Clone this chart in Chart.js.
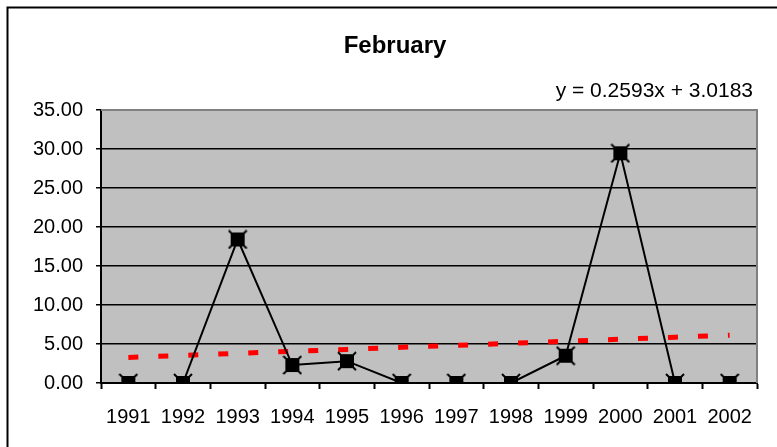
<!DOCTYPE html>
<html>
<head>
<meta charset="utf-8">
<script src="https://cdn.jsdelivr.net/npm/chart.js@4.4.0/dist/chart.umd.min.js"></script>
<style>
  body { margin: 0; background: #fff; }
  canvas { display: block; }
</style>
</head>
<body>
<canvas id="febChart" width="777" height="447"></canvas>
<script>
const years = ["1991", "1992", "1993", "1994", "1995", "1996", "1997", "1998", "1999", "2000", "2001", "2002"];
const rainfall = [0, 0, 18.4, 2.3, 2.8, 0, 0, 0, 3.5, 29.45, 0, 0];
// trendline values as shown: y = 0.2593x + 3.0183
const trend = [3.28, 3.54, 3.80, 4.06, 4.31, 4.57, 4.83, 5.09, 5.35, 5.61, 5.87, 6.13];
const yTicks = [0, 5, 10, 15, 20, 25, 30, 35];
const chartTitle = "February";
const trendLabel = "y = 0.2593x + 3.0183";

const FONT = "'Liberation Sans', Arial, sans-serif";

// square marker with little x corners, like the excel one
function makeMarker() {
    const c = document.createElement("canvas");
    c.width = 20;
    c.height = 20;
    const g = c.getContext("2d");
    g.strokeStyle = "#000";
    g.lineWidth = 2;
    g.beginPath();
    g.moveTo(1, 1); g.lineTo(19, 19);
    g.moveTo(19, 1); g.lineTo(1, 19);
    g.stroke();
    g.fillStyle = "#000";
    g.fillRect(3, 3, 14, 14);
    return c;
}

const framePlugin = {
    id: "frame",
    beforeDraw(chart) {
        const ctx = chart.ctx;
        const a = chart.chartArea;
        ctx.save();
        ctx.fillStyle = "#fff";
        ctx.fillRect(0, 0, chart.width, chart.height);
        ctx.fillStyle = "#c0c0c0";
        ctx.fillRect(a.left, a.top, a.right - a.left, a.bottom - a.top);
        // outer border
        ctx.strokeStyle = "#000";
        ctx.lineWidth = 2;
        ctx.beginPath();
        ctx.moveTo(7.5, chart.height);
        ctx.lineTo(7.5, 7.5);
        ctx.lineTo(chart.width, 7.5);
        ctx.stroke();
        ctx.restore();
    },
    afterDraw(chart) {
        const ctx = chart.ctx;
        const a = chart.chartArea;
        ctx.save();
        ctx.strokeStyle = "#808080";
        ctx.lineWidth = 2;
        ctx.beginPath();
        ctx.moveTo(a.left, a.top);
        ctx.lineTo(a.right, a.top);
        ctx.lineTo(a.right, a.bottom);
        ctx.stroke();

        ctx.fillStyle = "#000";
        ctx.font = "bold 24px " + FONT;
        ctx.textAlign = "center";
        ctx.textBaseline = "alphabetic";
        ctx.fillText(chartTitle, 395, 53);

        ctx.font = "21px " + FONT;
        ctx.textAlign = "right";
        ctx.fillText(trendLabel, 753, 97);
        ctx.restore();
    }
};

const ctx = document.getElementById("febChart").getContext("2d");
const marker = makeMarker();

new Chart(ctx, {
    type: "line",
    data: {
        labels: years,
        datasets: [{
            label: "February",
            data: rainfall,
            borderColor: "#000",
            borderWidth: 2,
            pointStyle: marker,
            pointRadius: 8,
            tension: 0
        }, {
            label: "Linear trend",
            data: trend,
            borderColor: "#ff0000",
            borderWidth: 5,
            borderDash: [10, 20],
            pointRadius: 0,
            tension: 0
        }]
    },
    options: {
        responsive: false,
        animation: false,
        layout: { padding: { top: 110, right: 20, left: 0, bottom: 0 } },
        plugins: {
            legend: { display: false },
            title: { display: false },
            tooltip: { enabled: false }
        },
        scales: {
            x: {
                offset: true,
                grid: {
                    offset: true,
                    drawOnChartArea: false,
                    tickLength: 6,
                    tickColor: "#000",
                    tickWidth: 2
                },
                border: { color: "#000", width: 2 },
                ticks: {
                    color: "#000",
                    font: { family: FONT, size: 20 },
                    padding: 16,
                    maxRotation: 0,
                    autoSkip: false
                },
                afterFit(scale) { scale.height = 64; }
            },
            y: {
                min: 0,
                max: 35,
                afterBuildTicks(scale) {
                    scale.ticks = yTicks.map(v => ({ value: v }));
                },
                grid: {
                    color: c => (c.tick && c.tick.value === 35 ? "#808080" : "#000"),
                    tickColor: "#000",
                    tickLength: 5,
                    lineWidth: 1.5
                },
                border: { color: "#000", width: 2 },
                ticks: {
                    color: "#000",
                    font: { family: FONT, size: 20 },
                    padding: 13,
                    callback: v => Number(v).toFixed(2)
                },
                afterFit(scale) { scale.width = 101; }
            }
        }
    },
    plugins: [framePlugin]
});
</script>
</body>
</html>
